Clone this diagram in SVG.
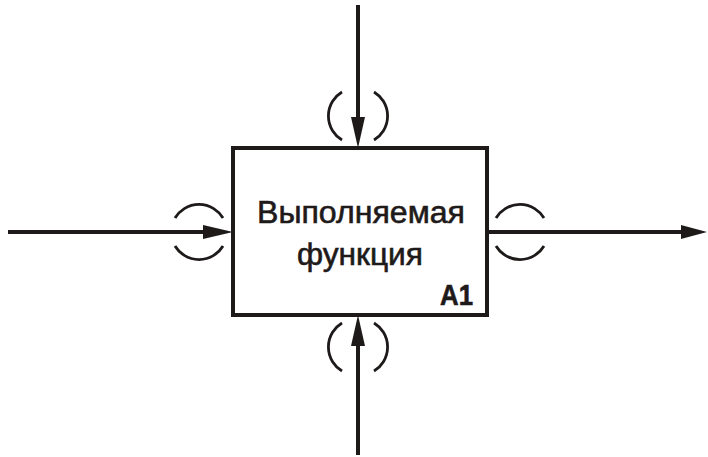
<svg xmlns="http://www.w3.org/2000/svg" width="708" height="457" viewBox="0 0 708 457">
<style>
.ln{stroke:#1e1a1a;stroke-width:4;fill:none}
.arc{stroke:#1e1a1a;stroke-width:2.8;fill:none}
.ah{fill:#1e1a1a}
.t{font-family:"Liberation Sans",Arial,sans-serif;fill:#1e1a1a;stroke:#1e1a1a;stroke-width:0.6}
</style>
<rect width="708" height="457" fill="#fff"/>
<g id="connectors">
  <g id="control">
    <line class="ln" x1="358" y1="5" x2="358" y2="120"/>
    <polygon class="ah" points="351,117 365,117 358,148"/>
    <path class="arc" d="M342,92 A28,28 0 0,0 342,140"/>
    <path class="arc" d="M374,92 A28,28 0 0,1 374,140"/>
  </g>
  <g id="input">
    <line class="ln" x1="8" y1="232" x2="206" y2="232"/>
    <polygon class="ah" points="203,225 203,239 233,232"/>
    <path class="arc" d="M175,218 A28,28 0 0,1 223,218"/>
    <path class="arc" d="M175,246 A28,28 0 0,0 223,246"/>
  </g>
  <g id="output">
    <line class="ln" x1="488" y1="232" x2="684" y2="232"/>
    <polygon class="ah" points="681,225 681,239 707,232"/>
    <path class="arc" d="M496,218 A28,28 0 0,1 544,218"/>
    <path class="arc" d="M496,246 A28,28 0 0,0 544,246"/>
  </g>
  <g id="mechanism">
    <line class="ln" x1="358" y1="455" x2="358" y2="343"/>
    <polygon class="ah" points="351,346 365,346 358,315"/>
    <path class="arc" d="M342,323 A28,28 0 0,0 342,371"/>
    <path class="arc" d="M374,323 A28,28 0 0,1 374,371"/>
  </g>
</g>
<g id="A1">
  <rect class="ln" x="233" y="148" width="254" height="167"/>
  <text class="t" x="257" y="223" font-size="31" textLength="208" lengthAdjust="spacingAndGlyphs">Выполняемая</text>
  <text class="t" x="297" y="265" font-size="31" textLength="126" lengthAdjust="spacingAndGlyphs">функция</text>
  <text class="t" x="440" y="305" font-size="29" font-weight="bold" textLength="33" lengthAdjust="spacingAndGlyphs">A1</text>
</g>
</svg>
